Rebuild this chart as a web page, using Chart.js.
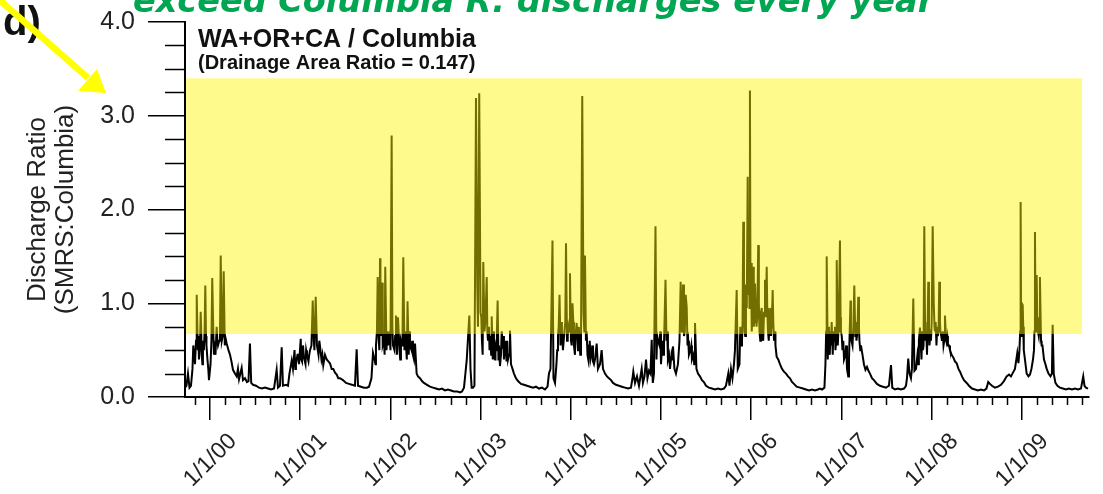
<!DOCTYPE html>
<html>
<head>
<meta charset="utf-8">
<script src="https://cdn.jsdelivr.net/npm/chart.js@4.4.0/dist/chart.umd.min.js"></script>
<style>
  html, body { margin: 0; padding: 0; background: #fff; }
  #wrap { width: 1103px; height: 494px; position: relative; }
</style>
</head>
<body>
<div id="wrap"><canvas id="ratioChart"></canvas></div>
<script>
// daily discharge ratio as [decimal year, ratio]
// (each water year: main trace first, then the dense winter wiggles)
const wy2000 = [[1999.723,0.10],[1999.739,0.12],[1999.756,0.25],[1999.773,0.10],[1999.789,0.12],[1999.806,0.30],[1999.823,0.45],[1999.834,0.35],[1999.853,1.09],[1999.865,0.50],[1999.878,0.40],[1999.897,0.91],[1999.909,0.45],[1999.922,0.60],[1999.933,0.50],[1999.948,1.19],[1999.961,0.55],[1999.972,0.40],[1999.989,0.18],[2000.006,0.35],[2000.025,1.27],[2000.039,0.60],[2000.050,0.55],[2000.061,0.45],[2000.074,0.75],[2000.089,0.55],[2000.103,0.60],[2000.119,1.51],[2000.131,0.60],[2000.152,1.34],[2000.164,0.55],[2000.185,0.57],[2000.205,0.50],[2000.222,0.45],[2000.238,0.38],[2000.255,0.29],[2000.277,0.25],[2000.296,0.22],[2000.310,0.30],[2000.322,0.19],[2000.351,0.31],[2000.366,0.18],[2000.388,0.20],[2000.410,0.16],[2000.427,0.17],[2000.443,0.57],[2000.457,0.15],[2000.477,0.13],[2000.510,0.12],[2000.543,0.10],[2000.576,0.09],[2000.610,0.10],[2000.643,0.09],[2000.676,0.08],[2000.710,0.09],[2000.739,0.29],[2000.754,0.10],[2000.776,0.12],[2000.795,0.53],[2000.809,0.12],[2000.843,0.13],[2000.865,0.12],
  [1999.815,0.55],[1999.845,0.60],[1999.871,0.65],[1999.889,0.55],[1999.916,0.35],[1999.940,0.70],[1999.956,0.65],[1999.981,0.30],[2000.016,0.60],[2000.044,0.45],[2000.082,0.60],[2000.111,0.70],[2000.141,0.65],[2000.174,0.62]];
const wy2001 = [[2000.881,0.25],[2000.906,0.39],[2000.920,0.30],[2000.937,0.50],[2000.953,0.35],[2000.970,0.45],[2000.987,0.35],[2001.006,0.62],[2001.020,0.38],[2001.042,0.42],[2001.059,0.35],[2001.075,0.45],[2001.092,0.38],[2001.109,0.50],[2001.125,0.55],[2001.139,1.03],[2001.151,0.60],[2001.172,1.07],[2001.186,0.55],[2001.203,0.45],[2001.220,0.54],[2001.236,0.40],[2001.256,0.34],[2001.275,0.45],[2001.294,0.40],[2001.312,0.38],[2001.330,0.36],[2001.349,0.30],[2001.367,0.30],[2001.386,0.26],[2001.405,0.24],[2001.422,0.20],[2001.441,0.20],[2001.474,0.18],[2001.508,0.15],[2001.541,0.14],[2001.574,0.13],[2001.607,0.12],[2001.626,0.51],[2001.641,0.12],[2001.674,0.11],[2001.707,0.10],[2001.740,0.10],[2001.763,0.11],[2001.790,0.20],[2001.807,0.47],[2001.824,0.40],
  [2000.946,0.30],[2000.979,0.45],[2001.012,0.40],[2001.031,0.55],[2001.066,0.50],[2001.100,0.45],[2001.158,0.50],[2001.212,0.60],[2001.246,0.45]];
const wy2002 = [[2001.840,0.55],[2001.859,1.28],[2001.871,0.60],[2001.885,1.48],[2001.896,0.65],[2001.907,1.22],[2001.918,0.55],[2001.929,0.60],[2001.943,1.39],[2001.957,0.50],[2001.973,0.55],[2001.990,0.65],[2002.014,2.79],[2002.029,0.55],[2002.045,0.50],[2002.062,0.87],[2002.073,0.45],[2002.084,0.85],[2002.101,0.50],[2002.117,0.60],[2002.129,0.55],[2002.143,1.49],[2002.156,0.50],[2002.173,0.55],[2002.190,1.02],[2002.203,0.45],[2002.217,0.55],[2002.234,0.50],[2002.250,0.45],[2002.273,0.57],[2002.291,0.25],[2002.306,0.22],[2002.328,0.20],[2002.350,0.17],[2002.372,0.15],[2002.406,0.13],[2002.439,0.11],[2002.472,0.10],[2002.505,0.09],[2002.539,0.08],[2002.572,0.09],[2002.605,0.07],[2002.638,0.08],[2002.672,0.07],[2002.705,0.06],[2002.738,0.06],[2002.771,0.05],[2002.794,0.06],[2002.816,0.10],
  [2001.835,0.35],[2001.851,0.70],[2001.878,0.50],[2001.890,0.75],[2001.912,0.70],[2001.936,0.45],[2001.964,0.70],[2002.001,0.50],[2002.022,0.75],[2002.053,0.65],[2002.079,0.70],[2002.109,0.40],[2002.135,0.70],[2002.164,0.70],[2002.182,0.40],[2002.211,0.70],[2002.242,0.60],[2002.262,0.40]];
const wy2003 = [[2002.846,0.39],[2002.875,0.87],[2002.888,0.30],[2002.901,0.10],[2002.916,0.10],[2002.932,0.12],[2002.949,3.19],[2002.963,1.20],[2002.985,3.24],[2002.999,0.90],[2003.015,0.60],[2003.030,1.44],[2003.043,0.70],[2003.068,1.28],[2003.082,0.60],[2003.099,0.50],[2003.110,0.65],[2003.123,0.86],[2003.135,0.40],[2003.148,0.45],[2003.165,0.55],[2003.176,0.50],[2003.189,1.03],[2003.204,0.55],[2003.215,0.33],[2003.226,0.45],[2003.243,0.60],[2003.259,0.40],[2003.270,0.54],[2003.287,0.38],[2003.304,0.40],[2003.326,0.71],[2003.337,0.35],[2003.354,0.30],[2003.370,0.25],[2003.392,0.20],[2003.415,0.17],[2003.448,0.14],[2003.481,0.13],[2003.514,0.12],[2003.548,0.11],[2003.581,0.10],[2003.614,0.11],[2003.647,0.09],[2003.681,0.10],[2003.714,0.08],[2003.742,0.11],
  [2002.971,0.75],[2003.008,0.85],[2003.023,0.45],[2003.053,0.80],[2003.075,0.70],[2003.093,0.75],[2003.117,0.45],[2003.142,0.70],[2003.160,0.40],[2003.181,0.70],[2003.198,0.40],[2003.234,0.70],[2003.250,0.65],[2003.279,0.60],[2003.296,0.60],[2003.315,0.45]];
const wy2004 = [[2003.758,0.25],[2003.775,0.30],[2003.797,1.67],[2003.808,0.20],[2003.825,0.15],[2003.841,0.35],[2003.858,0.65],[2003.875,1.09],[2003.886,0.55],[2003.902,0.70],[2003.913,0.50],[2003.930,0.70],[2003.947,1.64],[2003.958,0.60],[2003.974,0.75],[2003.991,1.32],[2004.002,0.60],[2004.019,1.00],[2004.035,0.55],[2004.052,0.65],[2004.065,0.79],[2004.080,0.50],[2004.096,0.60],[2004.113,0.55],[2004.127,3.21],[2004.141,0.90],[2004.157,1.51],[2004.168,0.60],[2004.185,0.45],[2004.202,0.55],[2004.218,0.40],[2004.232,0.47],[2004.246,0.38],[2004.268,0.40],[2004.287,0.57],[2004.301,0.30],[2004.324,0.35],[2004.342,0.50],[2004.357,0.30],[2004.379,0.25],[2004.401,0.22],[2004.423,0.20],[2004.446,0.18],[2004.468,0.15],[2004.501,0.13],[2004.534,0.12],[2004.567,0.11],[2004.601,0.10],[2004.634,0.09],[2004.667,0.10],[2004.684,0.20],
  [2003.849,0.50],[2003.866,0.75],[2003.893,0.80],[2003.921,0.60],[2003.939,0.80],[2003.966,0.65],[2003.983,0.70],[2004.010,0.55],[2004.028,0.80],[2004.046,0.45],[2004.072,0.65],[2004.089,0.75],[2004.105,0.45],[2004.150,0.70],[2004.176,0.70],[2004.194,0.40],[2004.210,0.60],[2004.238,0.55],[2004.257,0.35]];
const wy2005 = [[2004.693,0.27],[2004.712,0.15],[2004.734,0.22],[2004.756,0.12],[2004.786,0.30],[2004.800,0.15],[2004.817,0.22],[2004.834,0.40],[2004.850,0.20],[2004.867,0.28],[2004.883,0.25],[2004.897,0.61],[2004.909,0.15],[2004.922,0.25],[2004.939,1.82],[2004.950,0.40],[2004.967,0.60],[2004.983,0.55],[2005.000,0.35],[2005.016,0.60],[2005.033,0.55],[2005.050,1.25],[2005.061,0.60],[2005.077,0.40],[2005.100,0.30],[2005.116,0.45],[2005.133,0.54],[2005.149,0.30],[2005.166,0.25],[2005.188,0.35],[2005.205,0.60],[2005.218,1.23],[2005.230,0.70],[2005.244,1.20],[2005.255,0.65],[2005.274,1.09],[2005.285,0.96],[2005.294,0.55],[2005.310,0.45],[2005.327,0.50],[2005.343,0.40],[2005.360,0.45],[2005.377,0.79],[2005.393,0.30],[2005.410,0.25],[2005.432,0.22],[2005.454,0.18],[2005.476,0.16],[2005.499,0.12],[2005.532,0.10],[2005.565,0.09],[2005.598,0.08],[2005.632,0.09],[2005.665,0.08],[2005.698,0.09],[2005.720,0.12],[2005.746,0.25],
  [2004.958,0.65],[2004.992,0.70],[2005.025,0.45],[2005.069,0.70],[2005.089,0.45],[2005.124,0.40],[2005.177,0.30],[2005.237,0.70],[2005.264,0.70],[2005.302,0.60],[2005.336,0.55],[2005.368,0.35]];
const wy2006 = [[2005.759,0.12],[2005.776,0.30],[2005.792,0.20],[2005.809,0.35],[2005.820,0.50],[2005.839,1.14],[2005.851,0.30],[2005.870,0.35],[2005.887,0.55],[2005.898,0.60],[2005.912,1.87],[2005.926,0.70],[2005.942,1.20],[2005.961,2.35],[2005.975,1.60],[2005.986,3.27],[2005.998,1.43],[2006.014,0.90],[2006.023,1.39],[2006.033,0.80],[2006.042,1.21],[2006.059,0.75],[2006.078,1.62],[2006.092,0.70],[2006.108,0.90],[2006.125,0.65],[2006.142,0.90],[2006.153,1.25],[2006.172,1.39],[2006.186,0.70],[2006.203,0.85],[2006.219,0.65],[2006.238,1.14],[2006.253,0.60],[2006.269,0.55],[2006.282,0.43],[2006.300,0.40],[2006.319,0.35],[2006.341,0.30],[2006.363,0.27],[2006.386,0.25],[2006.408,0.22],[2006.430,0.20],[2006.452,0.16],[2006.474,0.14],[2006.504,0.11],[2006.541,0.10],[2006.574,0.09],[2006.607,0.08],[2006.641,0.07],[2006.674,0.08],[2006.707,0.07],[2006.740,0.08],[2006.762,0.09],[2006.785,0.08],[2006.812,0.10],
  [2005.879,0.75],[2005.904,0.80],[2005.920,1.00],[2005.934,0.65],[2005.951,0.95],[2005.968,1.10],[2005.981,0.95],[2005.992,1.20],[2006.006,0.70],[2006.029,0.75],[2006.050,0.95],[2006.067,0.85],[2006.085,1.00],[2006.101,0.60],[2006.117,0.95],[2006.133,0.60],[2006.162,0.85],[2006.178,0.95],[2006.195,0.60],[2006.212,0.95],[2006.228,0.80],[2006.245,0.80],[2006.264,0.70]];
const wy2007 = [[2006.823,0.35],[2006.837,1.50],[2006.849,0.40],[2006.862,0.55],[2006.879,0.70],[2006.892,0.80],[2006.904,0.45],[2006.918,0.60],[2006.934,0.50],[2006.948,1.46],[2006.960,0.55],[2006.973,0.93],[2006.984,1.67],[2006.995,0.70],[2007.012,0.50],[2007.029,0.40],[2007.045,0.45],[2007.062,0.30],[2007.076,0.22],[2007.084,0.40],[2007.101,1.03],[2007.112,0.60],[2007.123,0.55],[2007.143,1.19],[2007.154,0.65],[2007.167,0.60],[2007.187,1.07],[2007.200,0.60],[2007.217,0.55],[2007.234,0.45],[2007.250,0.35],[2007.267,0.29],[2007.284,0.32],[2007.300,0.28],[2007.317,0.25],[2007.339,0.20],[2007.361,0.18],[2007.394,0.14],[2007.428,0.12],[2007.461,0.11],[2007.494,0.10],[2007.527,0.12],[2007.550,0.34],[2007.564,0.10],[2007.594,0.08],[2007.627,0.09],[2007.660,0.08],[2007.694,0.09],[2007.716,0.12],
  [2006.831,0.70],[2006.856,0.75],[2006.871,0.45],[2006.884,0.55],[2006.911,0.70],[2006.929,0.75],[2006.942,0.60],[2006.966,0.70],[2006.991,0.85],[2007.004,0.65],[2007.021,0.60],[2007.053,0.55],[2007.106,0.70],[2007.133,0.75],[2007.159,0.80],[2007.178,0.70],[2007.195,0.75],[2007.209,0.50]];
const wy2008 = [[2007.727,0.20],[2007.741,0.41],[2007.755,0.25],[2007.771,0.20],[2007.782,0.30],[2007.797,1.05],[2007.810,0.28],[2007.827,0.30],[2007.843,0.45],[2007.854,0.35],[2007.871,0.74],[2007.888,0.40],[2007.904,0.50],[2007.919,1.82],[2007.932,0.60],[2007.949,0.45],[2007.963,1.23],[2007.976,0.55],[2007.993,0.60],[2008.012,1.82],[2008.024,1.00],[2008.037,0.70],[2008.054,0.55],[2008.068,0.65],[2008.085,1.23],[2008.098,0.70],[2008.115,0.60],[2008.132,0.55],[2008.148,0.87],[2008.165,0.60],[2008.181,0.55],[2008.204,0.50],[2008.222,0.45],[2008.242,0.42],[2008.259,0.38],[2008.278,0.36],[2008.298,0.30],[2008.315,0.27],[2008.337,0.22],[2008.359,0.18],[2008.389,0.15],[2008.414,0.12],[2008.448,0.09],[2008.481,0.08],[2008.514,0.07],[2008.547,0.08],[2008.581,0.07],[2008.608,0.09],[2008.628,0.16],[2008.647,0.14],[2008.669,0.12],[2008.703,0.10],[2008.736,0.11],[2008.769,0.13],[2008.802,0.17],[2008.832,0.22],[2008.858,0.24],[2008.880,0.22],[2008.902,0.26],[2008.924,0.30],[2008.950,0.47],[2008.963,0.36],
  [2007.859,0.60],[2007.880,0.55],[2007.896,0.70],[2007.911,0.55],[2007.927,0.80],[2007.941,0.70],[2007.956,0.75],[2007.971,0.75],[2007.985,0.65],[2008.001,0.80],[2008.032,0.75],[2008.045,0.80],[2008.062,0.75],[2008.077,0.70],[2008.093,0.80],[2008.107,0.65],[2008.124,0.70],[2008.140,0.60],[2008.159,0.65],[2008.174,0.65],[2008.193,0.55]];
const wy2009 = [[2008.974,0.50],[2008.987,2.08],[2008.999,1.00],[2009.010,0.98],[2009.022,0.50],[2009.035,0.40],[2009.054,0.25],[2009.074,0.22],[2009.091,0.24],[2009.107,0.30],[2009.124,0.40],[2009.135,0.50],[2009.146,1.76],[2009.157,1.00],[2009.165,1.30],[2009.179,0.70],[2009.201,1.28],[2009.213,0.60],[2009.229,0.55],[2009.246,0.40],[2009.262,0.35],[2009.276,0.30],[2009.296,0.25],[2009.318,0.22],[2009.334,0.25],[2009.342,0.77],[2009.354,0.25],[2009.373,0.15],[2009.395,0.12],[2009.423,0.10],[2009.456,0.09],[2009.490,0.08],[2009.523,0.09],[2009.556,0.08],[2009.589,0.09],[2009.623,0.08],[2009.656,0.09],[2009.681,0.22],[2009.695,0.12],[2009.711,0.10],[2009.734,0.09],
  [2008.982,0.70],[2008.993,0.65],[2009.016,0.75],[2009.140,0.70],[2009.153,0.70],[2009.171,0.85],[2009.188,0.65],[2009.195,0.75],[2009.220,0.55]];

const yearTicks = [2000, 2001, 2002, 2003, 2004, 2005, 2006, 2007, 2008, 2009];
const yearLabels = ['1/1/00', '1/1/01', '1/1/02', '1/1/03', '1/1/04', '1/1/05', '1/1/06', '1/1/07', '1/1/08', '1/1/09'];
const ratioTicks = [0, 1, 2, 3, 4];

// highlighted band (data units)
const bandX = [1999.735, 2009.668];
const bandY = [0.672, 3.40];

const FONT = '"Liberation Sans", Arial, Helvetica, sans-serif';

const series = [wy2000, wy2001, wy2002, wy2003, wy2004, wy2005, wy2006, wy2007, wy2008, wy2009]
    .flat()
    .map(([x, y]) => ({ x, y }))
    .sort((a, b) => a.x - b.x);

const decor = {
    id: 'decor',
    afterDatasetsDraw(chart) {
        const { ctx, scales: { x, y } } = chart;
        const x0 = x.getPixelForValue(bandX[0]);
        const x1 = x.getPixelForValue(bandX[1]);
        const y0 = y.getPixelForValue(bandY[1]);
        const y1 = y.getPixelForValue(bandY[0]);
        ctx.save();
        ctx.fillStyle = 'rgba(255, 244, 0, 0.45)';
        ctx.fillRect(x0, y0, x1 - x0, y1 - y0);
        ctx.restore();
    },
    afterDraw(chart) {
        const { ctx, chartArea: area, scales: { x, y } } = chart;
        ctx.save();
        ctx.strokeStyle = '#000';
        ctx.lineWidth = 1.5;

        // minor ticks on the ratio axis
        for (let v = 0.25; v < 4; v += 0.25) {
            if (Number.isInteger(v)) continue;
            const py = Math.round(y.getPixelForValue(v)) + 0.5;
            ctx.beginPath();
            ctx.moveTo(area.left, py);
            ctx.lineTo(area.left - 20, py);
            ctx.stroke();
        }
        // minor ticks every two months
        for (let yr = 1999; yr <= 2009; yr++) {
            for (let m = 2; m < 12; m += 2) {
                const v = yr + m / 12;
                if (v < x.min || v > x.max) continue;
                const px = Math.round(x.getPixelForValue(v)) + 0.5;
                ctx.beginPath();
                ctx.moveTo(px, area.bottom);
                ctx.lineTo(px, area.bottom + 8);
                ctx.stroke();
            }
        }

        // plot labels
        ctx.fillStyle = '#111';
        ctx.textBaseline = 'alphabetic';
        ctx.textAlign = 'left';
        ctx.font = 'bold 25px ' + FONT;
        ctx.fillText('WA+OR+CA / Columbia', area.left + 13, 47);
        ctx.font = 'bold 20px ' + FONT;
        ctx.fillText('(Drainage Area Ratio = 0.147)', area.left + 13, 69);

        // slide heading, cut by the top edge
        ctx.fillStyle = '#00a651';
        ctx.font = 'italic bold 33.5px "DejaVu Sans", sans-serif';
        ctx.fillText('exceed Columbia R. discharges every year', 133, 12);

        // panel letter
        ctx.fillStyle = '#111';
        ctx.font = 'bold 40px ' + FONT;
        ctx.fillText('d)', 3, 35);

        // yellow pointer arrow
        const tip = [106, 93];
        ctx.strokeStyle = '#ffff00';
        ctx.fillStyle = '#ffff00';
        ctx.lineWidth = 6.5;
        ctx.beginPath();
        ctx.moveTo(-6, -5);
        ctx.lineTo(88, 78);
        ctx.stroke();
        ctx.beginPath();
        ctx.moveTo(tip[0], tip[1]);
        ctx.lineTo(78, 91);
        ctx.lineTo(97, 69);
        ctx.closePath();
        ctx.fill();
        ctx.restore();
    }
};

new Chart(document.getElementById('ratioChart'), {
    type: 'line',
    data: {
        datasets: [{
            data: series,
            borderColor: '#000',
            borderWidth: 2,
            pointRadius: 0,
            tension: 0,
            fill: false
        }]
    },
    options: {
        responsive: true,
        maintainAspectRatio: false,
        animation: false,
        layout: { padding: { top: 22, right: 14, left: 0, bottom: 0 } },
        plugins: { legend: { display: false }, tooltip: { enabled: false } },
        scales: {
            x: {
                type: 'linear',
                min: 1999.723,
                max: 2009.745,
                afterBuildTicks: (s) => { s.ticks = yearTicks.map(v => ({ value: v })); },
                afterFit: (s) => { s.height = 97; },
                grid: { drawOnChartArea: false, tickLength: 23, color: '#000', lineWidth: 1.5 },
                border: { color: '#000', width: 2 },
                ticks: {
                    autoSkip: false,
                    minRotation: 45,
                    maxRotation: 45,
                    labelOffset: 23,
                    padding: 8,
                    color: '#222',
                    font: { family: FONT, size: 23 },
                    callback: (v, i) => yearLabels[i]
                }
            },
            y: {
                min: 0,
                max: 4,
                afterBuildTicks: (s) => { s.ticks = ratioTicks.map(v => ({ value: v })); },
                afterFit: (s) => { s.width = 185; s.paddingTop = 0; s.paddingBottom = 0; },
                grid: { drawOnChartArea: false, tickLength: 37, color: '#000', lineWidth: 1.5 },
                border: { color: '#000', width: 2 },
                ticks: {
                    padding: 13,
                    color: '#222',
                    font: { family: FONT, size: 25 },
                    callback: (v) => v.toFixed(1)
                },
                title: {
                    display: true,
                    text: ['Discharge Ratio', '(SMRS:Columbia)'],
                    color: '#222',
                    font: { family: FONT, size: 26, lineHeight: 1.08 },
                    padding: { top: 24, bottom: 0 }
                }
            }
        }
    },
    plugins: [decor]
});
</script>
</body>
</html>
